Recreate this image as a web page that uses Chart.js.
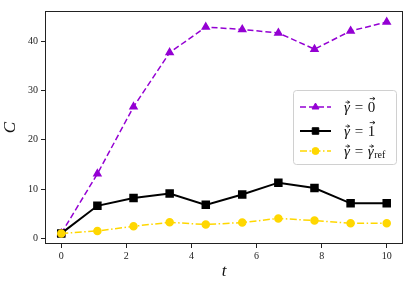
<!doctype html>
<html>
<head>
    <meta charset="UTF-8"/>
    <title>Chart</title>
    <style type="text/css">
        body{ margin:0; background:#fff; }
        .chartBox{ width:415px; height:288px; }
    </style>
</head>
<body>
    <div class="chartBox">
        <canvas id="myChart" width="415" height="288"></canvas>
    </div>

    <script src="https://cdn.jsdelivr.net/npm/chart.js"></script>

    <script>
        const tValues = [0, 1.11, 2.22, 3.33, 4.44, 5.56, 6.67, 7.78, 8.89, 10];
        const gammaZero = [1.0, 13.1, 26.7, 37.7, 42.9, 42.4, 41.7, 38.4, 42.1, 43.9];
        const gammaOne = [1.0, 6.6, 8.2, 9.1, 6.8, 8.9, 11.3, 10.2, 7.1, 7.1];
        const gammaRef = [1.0, 1.5, 2.45, 3.25, 2.8, 3.2, 4.05, 3.6, 3.05, 3.05];
        const xTicks = [0, 2, 4, 6, 8, 10];
        const yTicks = [0, 10, 20, 30, 40];

        const serif = '"Liberation Serif", "DejaVu Serif", serif';

        function toPoints(ys) {
            return ys.map((y, i) => ({ x: tValues[i], y: y }));
        }

        // draws a letter with a small arrow over it, returns width
        function drawVec(ctx, ch, x, y, font, size, high) {
            ctx.font = font;
            const w = ctx.measureText(ch).width;
            ctx.fillText(ch, x, y);
            const top = y - size * (high ? 0.86 : 0.62);
            const x0 = x + w * 0.25, x1 = x + w * 0.95;
            ctx.save();
            ctx.lineWidth = 0.8;
            ctx.beginPath();
            ctx.moveTo(x0, top);
            ctx.lineTo(x1, top);
            ctx.moveTo(x1 - 2.2, top - 1.5);
            ctx.lineTo(x1, top);
            ctx.lineTo(x1 - 2.2, top + 1.5);
            ctx.stroke();
            ctx.restore();
            return w;
        }

        const boxPlugin = {
            id: 'box',
            afterDraw(chart) {
                const ctx = chart.ctx, a = chart.chartArea;
                ctx.save();
                ctx.strokeStyle = '#222';
                ctx.lineWidth = 1;
                ctx.strokeRect(a.left + 0.5, a.top + 0.5, a.right - a.left - 1, a.bottom - a.top - 1);
                ctx.restore();
            }
        };

        const legendPlugin = {
            id: 'mathLegend',
            afterDraw(chart) {
                const ctx = chart.ctx;
                const bx = 293, by = 90, bw = 103, bh = 74;
                ctx.save();
                ctx.beginPath();
                ctx.roundRect(bx + 0.5, by + 0.5, bw, bh, 3);
                ctx.fillStyle = 'rgba(255,255,255,0.8)';
                ctx.fill();
                ctx.strokeStyle = '#d0d0d0';
                ctx.lineWidth = 1;
                ctx.stroke();

                const rows = [107, 131, 151];
                chart.data.datasets.forEach((ds, i) => {
                    const y = rows[i];
                    ctx.strokeStyle = ds.borderColor;
                    ctx.lineWidth = ds.borderWidth;
                    ctx.setLineDash(ds.borderDash || []);
                    ctx.beginPath();
                    ctx.moveTo(300, y);
                    ctx.lineTo(331, y);
                    ctx.stroke();
                    ctx.setLineDash([]);
                    ctx.fillStyle = ds.pointBackgroundColor;
                    ctx.strokeStyle = ds.pointBorderColor;
                    ctx.lineWidth = 1;
                    Chart.helpers.drawPoint(ctx, {
                        pointStyle: ds.pointStyle,
                        radius: ds.pointRadius,
                        borderWidth: 1
                    }, 315.5, y);

                    // label
                    ctx.fillStyle = '#111';
                    ctx.strokeStyle = '#111';
                    ctx.textBaseline = 'alphabetic';
                    const base = y + 4.5;
                    const it = 'italic 15px ' + serif;
                    const rm = '15px ' + serif;
                    let x = 344;
                    x += drawVec(ctx, 'γ', x, base, it, 15, false);
                    ctx.font = rm;
                    ctx.fillText(' = ', x + 1, base);
                    x += ctx.measureText(' = ').width + 2;
                    if (i === 0) {
                        drawVec(ctx, '0', x, base, rm, 15, true);
                    } else if (i === 1) {
                        drawVec(ctx, '1', x, base, rm, 15, true);
                    } else {
                        x += drawVec(ctx, 'γ', x, base, it, 15, false);
                        ctx.font = '10px ' + serif;
                        ctx.fillText('ref', x + 0.5, base + 2.5);
                    }
                });
                ctx.restore();
            }
        };

        const data = {
            datasets: [
                {
                    label: 'gamma = 0',
                    data: toPoints(gammaZero),
                    borderColor: '#9400D3',
                    backgroundColor: '#9400D3',
                    pointBackgroundColor: '#9400D3',
                    pointBorderColor: '#9400D3',
                    borderWidth: 1.5,
                    borderDash: [6, 3],
                    pointStyle: 'triangle',
                    pointRadius: 4,
                    order: 3
                },
                {
                    label: 'gamma = 1',
                    data: toPoints(gammaOne),
                    borderColor: '#000000',
                    backgroundColor: '#000000',
                    pointBackgroundColor: '#000000',
                    pointBorderColor: '#000000',
                    borderWidth: 2,
                    pointStyle: 'rect',
                    pointRadius: 4.6,
                    order: 2
                },
                {
                    label: 'gamma = ref',
                    data: toPoints(gammaRef),
                    borderColor: '#FFD700',
                    backgroundColor: '#FFD700',
                    pointBackgroundColor: '#FFD700',
                    pointBorderColor: '#FFD700',
                    borderWidth: 1.5,
                    borderDash: [7, 2.5, 1.5, 2.5],
                    pointStyle: 'circle',
                    pointRadius: 3.5,
                    order: 1
                }
            ]
        };

        const config = {
            type: 'line',
            data: data,
            plugins: [boxPlugin, legendPlugin],
            options: {
                responsive: false,
                animation: false,
                layout: { padding: { top: 11, right: 12, left: 0, bottom: 0 } },
                elements: { line: { tension: 0 }, point: { hoverRadius: 4 } },
                plugins: {
                    legend: { display: false },
                    tooltip: { enabled: false }
                },
                scales: {
                    x: {
                        type: 'linear',
                        min: -0.5,
                        max: 10.5,
                        afterBuildTicks: (s) => { s.ticks = xTicks.map(v => ({ value: v })); },
                        afterFit: (s) => { s.height = 44; },
                        grid: {
                            drawOnChartArea: false,
                            drawTicks: true,
                            tickLength: 4,
                            color: '#222'
                        },
                        border: { display: false },
                        ticks: {
                            color: '#222',
                            font: { family: serif, size: 10 },
                            padding: 2,
                            maxRotation: 0
                        },
                        title: {
                            display: true,
                            text: 't',
                            color: '#111',
                            font: { family: serif, size: 17, style: 'italic' },
                            padding: { top: 0, bottom: 6 }
                        }
                    },
                    y: {
                        min: -1.15,
                        max: 46.15,
                        afterBuildTicks: (s) => { s.ticks = yTicks.map(v => ({ value: v })); },
                        afterFit: (s) => { s.width = 45; },
                        grid: {
                            drawOnChartArea: false,
                            drawTicks: true,
                            tickLength: 4,
                            color: '#222'
                        },
                        border: { display: false },
                        ticks: {
                            color: '#222',
                            font: { family: serif, size: 10 },
                            padding: 3
                        },
                        title: {
                            display: true,
                            text: 'C',
                            color: '#111',
                            font: { family: serif, size: 17, style: 'italic' },
                            padding: { top: 0, bottom: 6 }
                        }
                    }
                }
            }
        };

        const myChart = new Chart(document.getElementById('myChart'), config);
    </script>
</body>
</html>
